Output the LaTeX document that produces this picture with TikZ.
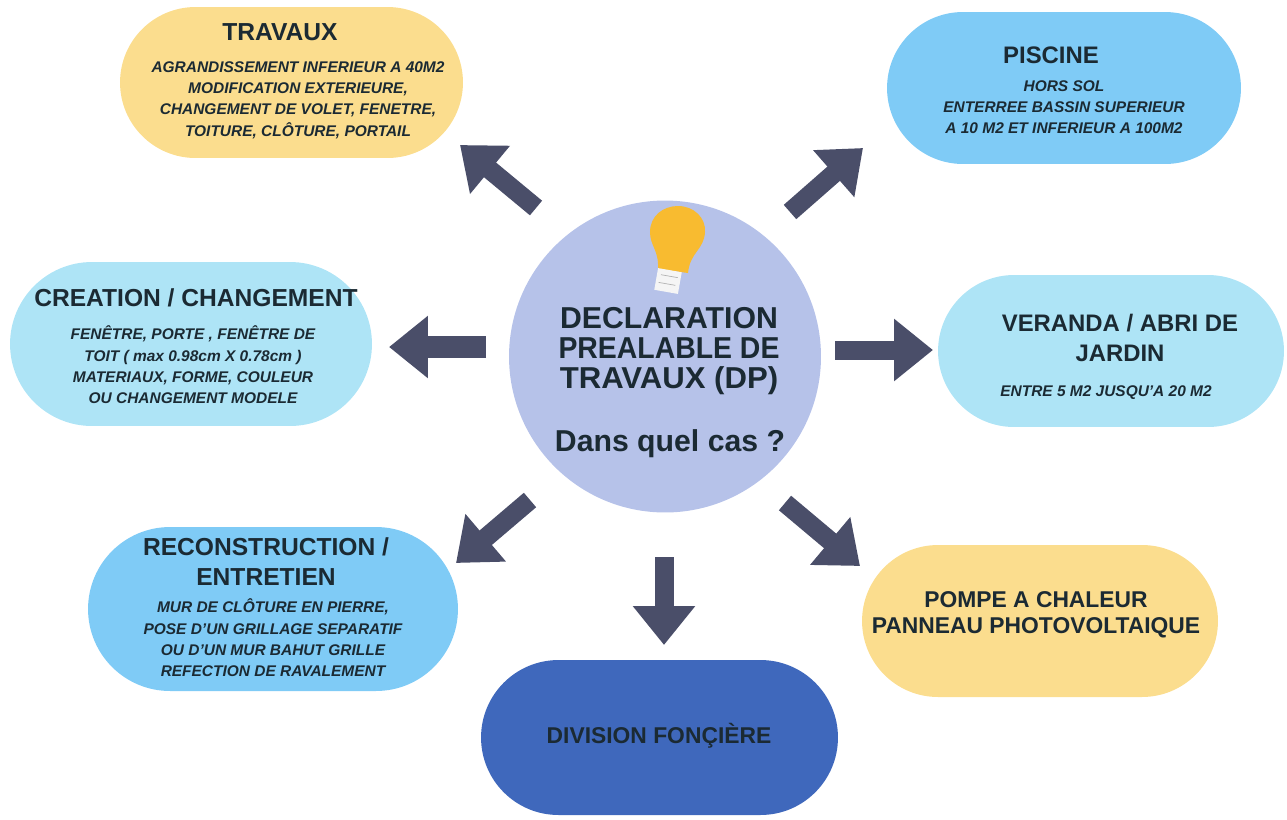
\documentclass[tikz,border=0pt]{standalone}
\usepackage{fontspec}
\usepackage{xcolor}
\setmainfont{Liberation Sans}
\usetikzlibrary{shapes.misc}
\usetikzlibrary{arrows.meta}
\definecolor{inkdark}{HTML}{1B2A33}
\definecolor{arrowgrey}{HTML}{4A4E69}
\definecolor{sandpill}{HTML}{FBDD8E}
\definecolor{skypill}{HTML}{7FCBF6}
\definecolor{palepill}{HTML}{AEE4F6}
\definecolor{navypill}{HTML}{3F68BC}
\definecolor{discblue}{HTML}{B6C2E9}
\definecolor{bulbyellow}{HTML}{F8BB30}
\tikzset{
    pill/.style = {shape = rounded rectangle, inner sep = 0pt, outer sep = 0pt},
    pilltitle/.style = {inkdark, align = center, inner sep = 0pt,
        font = \fontsize{13.6}{17}\selectfont\bfseries},
    widetitle/.style = {pilltitle, font = \fontsize{14}{17}\selectfont\bfseries},
    tighttitle/.style = {pilltitle, font = \fontsize{13}{14.8}\selectfont\bfseries},
    pillbody/.style = {inkdark, align = center, inner sep = 0pt,
        font = \fontsize{8.8}{12.1}\selectfont\bfseries\itshape},
    disctext/.style = {inkdark, align = center, inner sep = 0pt,
        font = \fontsize{17.2}{17}\selectfont\bfseries},
    bigarrow/.style = {arrowgrey, line width = 0.38cm,
        -{Triangle[length = 0.78cm, width = 1.2cm]}}
}

\begin{document}
\begin{tikzpicture}[x = 0.02cm, y = -0.02cm]
        \useasboundingbox (0, 0) rectangle (1287, 819);

        \node[pill, fill = sandpill, minimum width = 6.86cm, minimum height = 3.02cm] (travaux) at (291.5, 82.5) {};
        \node[pill, fill = skypill, minimum width = 7.08cm, minimum height = 3.04cm] (piscine) at (1064, 88) {};
        \node[pill, fill = palepill, minimum width = 7.24cm, minimum height = 3.28cm] (creation) at (191, 344) {};
        \node[pill, fill = palepill, minimum width = 6.92cm, minimum height = 3.04cm] (veranda) at (1111, 351) {};
        \node[pill, fill = skypill, minimum width = 7.4cm, minimum height = 3.28cm] (reconstruction) at (273, 609) {};
        \node[pill, fill = navypill, minimum width = 7.14cm, minimum height = 3.1cm] (division) at (659.5, 737.5) {};
        \node[pill, fill = sandpill, minimum width = 7.12cm, minimum height = 3.04cm] (pompe) at (1040, 621) {};
        \node[circle, fill = discblue, inner sep = 0pt, minimum size = 6.24cm] (disc) at (665, 356.5) {};

        % bulb
        \fill[bulbyellow] (658, 269) .. controls (659, 250) and (650, 246) .. (650, 232)
            .. controls (650, 216) and (663, 206) .. (678, 206)
            .. controls (694, 206) and (706, 218) .. (705, 232)
            .. controls (704, 250) and (690, 252) .. (688, 273) -- cycle;
        \fill[white!92!gray, rotate around = {-10: (668, 281)}] (656, 270) rectangle (680, 292);
        \draw[gray!60, rotate around = {-10: (668, 281)}] (660, 276) -- (677, 276) (659, 284) -- (676, 284);

        \coordinate (travauxtail) at (536, 208);
        \coordinate (travauxtip) at (460, 145);
        \coordinate (piscinetail) at (790, 212);
        \coordinate (piscinetip) at (863, 148);
        \coordinate (creationtail) at (486, 347);
        \coordinate (creationtip) at (389, 347);
        \coordinate (verandatail) at (835, 350);
        \coordinate (verandatip) at (933, 350);
        \coordinate (reconstructiontail) at (530, 500);
        \coordinate (reconstructiontip) at (456, 563);
        \coordinate (divisiontail) at (664, 557);
        \coordinate (divisiontip) at (664, 645);
        \coordinate (pompetail) at (785, 503);
        \coordinate (pompetip) at (860, 566);

        \draw[bigarrow] (travauxtail) -- (travauxtip);
        \draw[bigarrow] (piscinetail) -- (piscinetip);
        \draw[bigarrow, line width = 0.44cm] (creationtail) -- (creationtip);
        \draw[bigarrow] (verandatail) -- (verandatip);
        \draw[bigarrow] (reconstructiontail) -- (reconstructiontip);
        \draw[bigarrow] (divisiontail) -- (divisiontip);
        \draw[bigarrow] (pompetail) -- (pompetip);

        \node[disctext] (disctitle) at (669, 351) {DECLARATION\\\scalebox{0.94}[1]{PREALABLE DE}\\\scalebox{1.03}[1]{TRAVAUX (DP)}};
        \node[disctext] (discquestion) at (670, 444) {Dans quel cas ?};

        \node[widetitle] (travauxtitle) at (280, 32) {TRAVAUX};
        \node[pillbody] (travauxbody) at (298, 100) {AGRANDISSEMENT INFERIEUR A 40M2\\MODIFICATION EXTERIEURE,\\CHANGEMENT DE VOLET, FENETRE,\\TOITURE, CLÔTURE, PORTAIL};

        \node[pilltitle] (piscinetitle) at (1051, 55) {PISCINE};
        \node[pillbody] (piscinebody) at (1064, 107) {HORS SOL\\ENTERREE BASSIN SUPERIEUR\\A 10 M2 ET INFERIEUR A 100M2};

        \node[widetitle] (creationtitle) at (196, 298) {CREATION / CHANGEMENT};
        \node[pillbody] (creationbody) at (193, 365) {FENÊTRE, PORTE , FENÊTRE DE\\TOIT ( max 0.98cm X 0.78cm )\\MATERIAUX, FORME, COULEUR\\OU CHANGEMENT MODELE};

        \node[pilltitle] (verandatitle) at (1120, 338) {VERANDA / ABRI DE\\JARDIN};
        \node[pillbody] (verandabody) at (1106, 393) {ENTRE 5 M2 JUSQU'A 20 M2};

        \node[widetitle] (reconstructiontitle) at (266, 562) {RECONSTRUCTION /\\ENTRETIEN};
        \node[pillbody] (reconstructionbody) at (273, 638) {MUR DE CLÔTURE EN PIERRE,\\POSE D'UN GRILLAGE SEPARATIF\\OU D'UN MUR BAHUT GRILLE\\REFECTION DE RAVALEMENT};

        \node[tighttitle] (divisiontitle) at (659, 736) {DIVISION FONÇIÈRE};

        \node[tighttitle] (pompetitle) at (1036, 615) {POMPE A CHALEUR\\PANNEAU PHOTOVOLTAIQUE};
    \end{tikzpicture}
\end{document}
